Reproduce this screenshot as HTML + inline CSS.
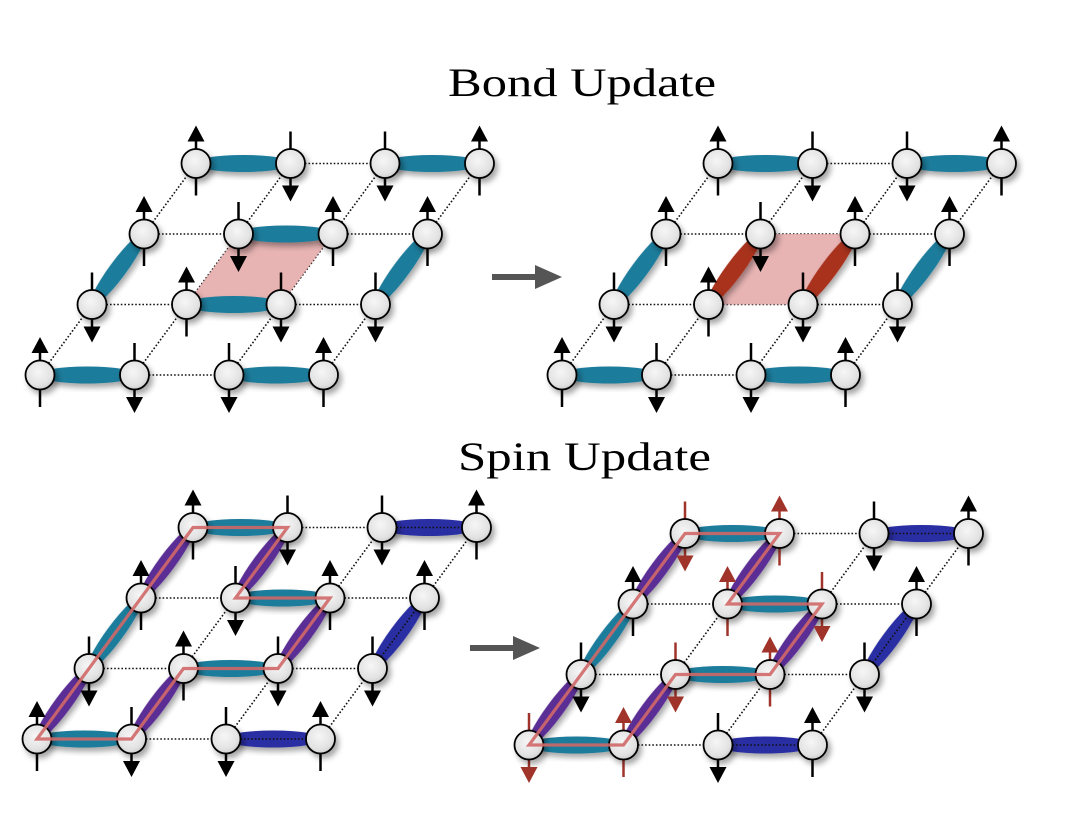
<!DOCTYPE html>
<html><head><meta charset="utf-8"><style>
html,body{margin:0;padding:0;background:#fff;}
svg{display:block;}
text{font-family:"Liberation Serif",serif;}
</style></head><body>
<svg id="fig" width="1068" height="838" viewBox="0 0 1068 838" xmlns="http://www.w3.org/2000/svg">
<defs>
<radialGradient id="ball" cx="45%" cy="40%" r="65%">
<stop offset="0" stop-color="#f6f6f6"/><stop offset="0.7" stop-color="#e2e2e2"/><stop offset="1" stop-color="#c8c8c8"/>
</radialGradient>
<filter id="sh" x="-50%" y="-50%" width="200%" height="200%">
<feDropShadow dx="3" dy="4" stdDeviation="3" flood-color="#000" flood-opacity="0.35"/>
</filter>
</defs>
<text x="448" y="96" font-size="40" textLength="268" lengthAdjust="spacingAndGlyphs">Bond Update</text>
<text x="458" y="470" font-size="40" textLength="253" lengthAdjust="spacingAndGlyphs">Spin Update</text>
<g>
<rect x="492" y="274" width="45" height="6" fill="#555"/><polygon points="535,265 562,277 535,289" fill="#555"/>
</g>
<g>
<rect x="470" y="645" width="45" height="6" fill="#555"/><polygon points="513,636 540,648 513,660" fill="#555"/>
</g>
</svg>
<script>
const baseSpins=[[1,-1,-1,1],[-1,1,-1,-1],[1,-1,1,1],[1,-1,-1,1]];
const bondsTL=[[0,0,1,0,'t'],[2,0,3,0,'t'],[0,1,0,2,'t'],[1,1,2,1,'t'],[3,1,3,2,'t'],[1,2,2,2,'t'],[0,3,1,3,'t'],[2,3,3,3,'t']];
const bondsTR=[[0,0,1,0,'t'],[2,0,3,0,'t'],[0,1,0,2,'t'],[1,1,1,2,'r'],[2,1,2,2,'r'],[3,1,3,2,'t'],[0,3,1,3,'t'],[2,3,3,3,'t']];
const bondsBottom=[[0,0,1,0,'t'],[2,0,3,0,'b'],[0,0,0,1,'p'],[1,0,1,1,'p'],[0,1,0,2,'t'],[1,1,2,1,'t'],[3,1,3,2,'b'],[2,1,2,2,'p'],[0,2,0,3,'p'],[1,2,2,2,'t'],[1,2,1,3,'p'],[0,3,1,3,'t'],[2,3,3,3,'b']];
const loopSites=[[0,0],[1,0],[1,1],[2,1],[2,2],[1,2],[1,3],[0,3]];
const plaquette=[[1,1],[2,1],[2,2],[1,2]];
const colors={t:'#1f7b9b',b:'#2a2ea3',p:'#5a2d95',r:'#a8301f'};
const NS='http://www.w3.org/2000/svg';
const svg=document.getElementById('fig');
const AX=94.5, BX=52, BY=70.5;
function pos(o,i,j){return [o[0]+i*AX+j*BX, o[1]-j*BY];}
function mk(tag,attrs,parent){const e=document.createElementNS(NS,tag);for(const k in attrs)e.setAttribute(k,attrs[k]);(parent||svg).appendChild(e);return e;}
function dotted(g,a,b){const l=mk('line',{x1:a[0],y1:a[1],x2:b[0],y2:b[1],stroke:'#111','stroke-width':1.6,'stroke-dasharray':'1.6 2'},g);

}
function panel(name,o,bonds,opts){
  const g=mk('g',{});
  
  
  for(let j=0;j<4;j++)for(let i=0;i<4;i++){
    if(i<3)dotted(g,pos(o,i,j),pos(o,i+1,j));
    if(j<3)dotted(g,pos(o,i,j),pos(o,i,j+1));
  }
  if(opts.plaq){
    const p=mk('polygon',{points:plaquette.map(s=>pos(o,s[0],s[1]).join(',')).join(' '),fill:'#e3a6a6','fill-opacity':0.85},g);
    
    
  }
  bonds.forEach(b=>{
    const a=pos(o,b[0],b[1]),c=pos(o,b[2],b[3]);
    const cx=(a[0]+c[0])/2,cy=(a[1]+c[1])/2,len=Math.hypot(c[0]-a[0],c[1]-a[1]);
    const ang=Math.atan2(c[1]-a[1],c[0]-a[0])*180/Math.PI;
    const e=mk('ellipse',{cx:cx,cy:cy,rx:len/2+2,ry:8.5,fill:colors[b[4]],filter:'url(#sh)',transform:`rotate(${ang} ${cx} ${cy})`},g);
    
    
    if(b[4]==='b')dotted(g,a,c);
  });
  for(let j=0;j<4;j++)for(let i=0;i<4;i++){
    const [x,y]=pos(o,i,j);
    let s=baseSpins[j][i];let col='#000';
    if(opts.flip&&loopSites.some(q=>q[0]===i&&q[1]===j)){s=-s;col='#a0342a';}
    const ag=mk('g',{},g);
    
    
    mk('line',{x1:x,y1:y+32*s,x2:x,y2:y-24*s,stroke:col,'stroke-width':2.5},ag);
    mk('polygon',{points:`${x-8.5},${y-22*s} ${x+8.5},${y-22*s} ${x},${y-38*s}`,fill:col},ag);
  }
  for(let j=0;j<4;j++)for(let i=0;i<4;i++){
    const [x,y]=pos(o,i,j);
    const c=mk('circle',{cx:x,cy:y,r:14.5,fill:'url(#ball)',stroke:'#000','stroke-width':1.8,filter:'url(#sh)'},g);
    
    
  }
  if(opts.loop){
    const l=mk('polygon',{points:loopSites.map(s=>pos(o,s[0],s[1]).join(',')).join(' '),fill:'none',stroke:'#d06868','stroke-width':3.2,'stroke-opacity':0.9},g);
    
    
  }
}
panel('bond-before-lattice',[40,375],bondsTL,{plaq:true});
panel('bond-after-lattice',[562,375],bondsTR,{plaq:true});
panel('spin-before-lattice',[37,739],bondsBottom,{loop:true});
panel('spin-after-lattice',[529,745],bondsBottom,{loop:true,flip:true});
</script>
</body></html>
